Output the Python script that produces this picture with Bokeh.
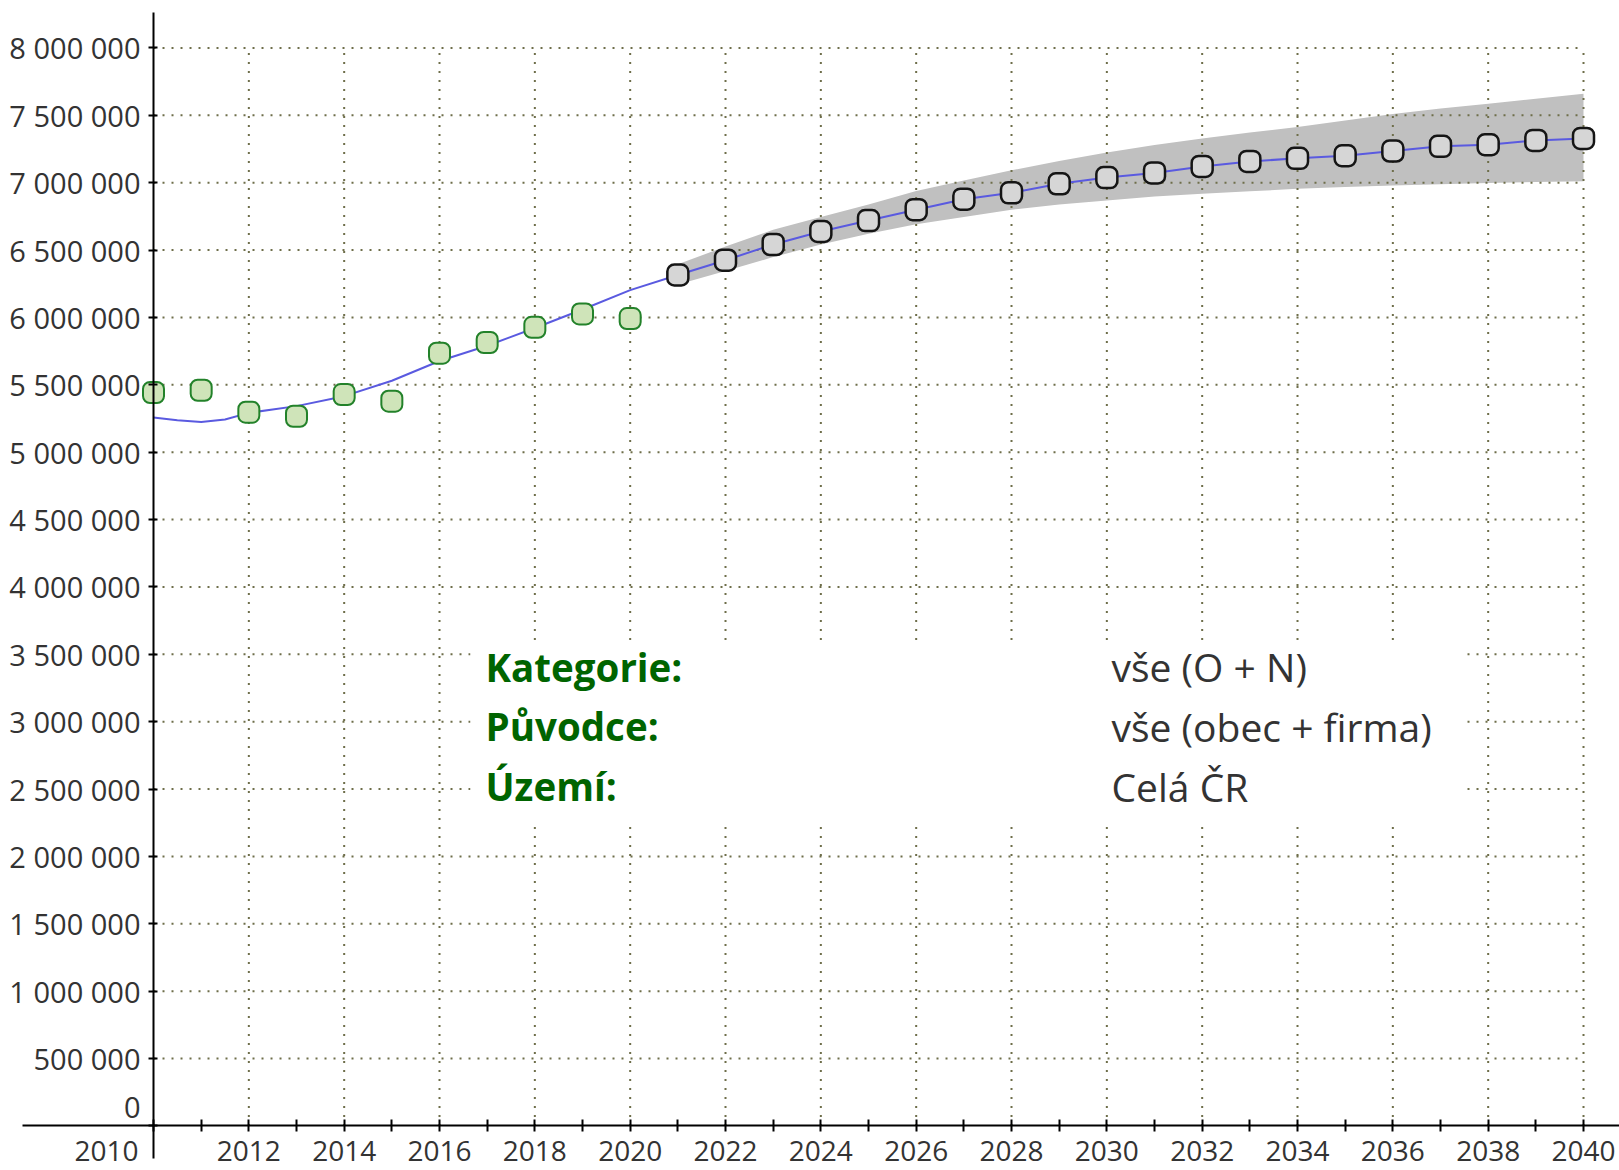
from bokeh.plotting import figure
from bokeh.models import LinearAxis, FixedTicker, Range1d, Label
from bokeh.embed import file_html
from bokeh.resources import INLINE

# ---------------- data ----------------
hist_years = [2010, 2011, 2012, 2013, 2014, 2015, 2016, 2017, 2018, 2019, 2020]
hist_values = [5443000, 5460000, 5297000, 5267000, 5428000, 5379000,
               5735000, 5814000, 5927000, 6026000, 5992000]

fc_years = [2021, 2022, 2023, 2024, 2025, 2026, 2027, 2028, 2029, 2030,
            2031, 2032, 2033, 2034, 2035, 2036, 2037, 2038, 2039, 2040]
fc_values = [6315000, 6425000, 6542000, 6638000, 6719000, 6800000, 6878000,
             6925000, 6992000, 7038000, 7073000, 7121000, 7158000, 7181000,
             7200000, 7235000, 7270000, 7282000, 7314000, 7329000]
fc_upper = [6394000, 6527000, 6651000, 6745000, 6839000, 6938000, 7017000,
            7092000, 7161000, 7225000, 7280000, 7328000, 7372000, 7413000,
            7462000, 7510000, 7550000, 7587000, 7624000, 7660000]
fc_lower = [6245000, 6344000, 6448000, 6542000, 6621000, 6691000, 6745000,
            6800000, 6839000, 6868000, 6898000, 6918000, 6936000, 6955000,
            6968000, 6980000, 6988000, 6998000, 7005000, 7011000]

trend_years = [2010, 2010.5, 2011, 2011.5, 2012, 2013, 2014, 2015, 2016,
               2017, 2018, 2019, 2020]
trend_values = [5257000, 5238000, 5225000, 5243000, 5292000, 5342000, 5416000,
                5530000, 5677000, 5790000, 5922000, 6059000, 6203000]

x_ticks = [2010, 2012, 2014, 2016, 2018, 2020, 2022, 2024, 2026, 2028, 2030,
           2032, 2034, 2036, 2038, 2040]
x_tick_labels = ["2010", "2012", "2014", "2016", "2018", "2020", "2022", "2024",
                 "2026", "2028", "2030", "2032", "2034", "2036", "2038", "2040"]
x_minor_ticks = [2011, 2013, 2015, 2017, 2019, 2021, 2023, 2025, 2027, 2029,
                 2031, 2033, 2035, 2037, 2039]

y_ticks = [0, 500000, 1000000, 1500000, 2000000, 2500000, 3000000, 3500000,
           4000000, 4500000, 5000000, 5500000, 6000000, 6500000, 7000000,
           7500000, 8000000]
y_tick_labels = ["0", "500 000", "1 000 000", "1 500 000", "2 000 000",
                 "2 500 000", "3 000 000", "3 500 000", "4 000 000",
                 "4 500 000", "5 000 000", "5 500 000", "6 000 000",
                 "6 500 000", "7 000 000", "7 500 000", "8 000 000"]

info_keys = ["Kategorie:", "Původce:", "Území:"]
info_values = ["vše (O + N)", "vše (obec + firma)", "Celá ČR"]

# ---------------- styles ----------------
FONT = "Open Sans"
Y_TICK_SIZE = "29px"
X_TICK_SIZE = "28px"
TEXT_COLOR = "#333333"
GRID_COLOR = "#6e6e4a"

W, H = 1619, 1170

p = figure(width=W, height=H, output_backend="svg", toolbar_location=None,
           x_axis_type=None, y_axis_type=None,
           x_range=Range1d(2006.790, 2040.755),
           y_range=Range1d(-331000, 8352400),
           min_border_left=0, min_border_right=0,
           min_border_top=0, min_border_bottom=0,
           background_fill_color="white", border_fill_color="white")
p.outline_line_color = None

# confidence band
p.varea(x=fc_years, y1=fc_lower, y2=fc_upper, fill_color="#c0c0c0", fill_alpha=1.0)

# dotted grid limited to the data area (2010-2040, 0-8 000 000)
gx = x_ticks[1:]
p.segment(x0=gx, y0=[y_ticks[0]] * len(gx), x1=gx, y1=[y_ticks[-1]] * len(gx),
          line_color=GRID_COLOR, line_width=2, line_dash="2 7")
gy = y_ticks[1:]
p.segment(x0=[x_ticks[0]] * len(gy), y0=gy, x1=[x_ticks[-1]] * len(gy), y1=gy,
          line_color=GRID_COLOR, line_width=2, line_dash="2 7")

# white info box covering the grid
p.quad(left=[2016.65], right=[2037.54], bottom=[2244000], top=[3588000],
       fill_color="white", line_color=None)

# trend line
p.line(trend_years + fc_years, trend_values + fc_values, line_color="#5a5ae0", line_width=2)

def markers(xs, ys, fill, line, lw):
    try:
        p.rect(xs, ys, width=21, height=21, width_units="screen", height_units="screen",
               border_radius=7, fill_color=fill, line_color=line, line_width=lw)
    except Exception:
        p.scatter(xs, ys, marker="circle", size=21, fill_color=fill,
                  line_color=line, line_width=lw)

markers(hist_years, hist_values, "#cfe4b9", "#23822a", 2)
markers(fc_years, fc_values, "#d6d6d6", "#151515", 2.5)

# axes crossing at (2010, 0)
xaxis = LinearAxis(fixed_location=0,
                   ticker=FixedTicker(ticks=x_ticks, minor_ticks=x_minor_ticks),
                   bounds=(2007.25, 2041))
xaxis.major_label_overrides = {t: (lab if t != 2010 else "")
                               for t, lab in zip(x_ticks, x_tick_labels)}
yaxis = LinearAxis(fixed_location=2010,
                   ticker=FixedTicker(ticks=y_ticks),
                   bounds=(-242000, 8263000))
yaxis.major_label_overrides = {t: (lab if t != 0 else "")
                               for t, lab in zip(y_ticks, y_tick_labels)}
for ax in (xaxis, yaxis):
    ax.axis_line_color = "black"
    ax.axis_line_width = 2
    ax.major_tick_line_color = "black"
    ax.major_tick_line_width = 2
    ax.minor_tick_line_color = "black"
    ax.minor_tick_line_width = 2
    ax.major_label_text_font = FONT
    ax.major_label_text_color = TEXT_COLOR
xaxis.major_label_text_font_size = X_TICK_SIZE
yaxis.major_label_text_font_size = Y_TICK_SIZE
xaxis.major_tick_in = 6
xaxis.major_tick_out = 6
xaxis.minor_tick_in = 6
xaxis.minor_tick_out = 6
xaxis.major_label_standoff = 9
yaxis.major_tick_in = 4
yaxis.major_tick_out = 5
yaxis.minor_tick_line_color = None
yaxis.major_label_standoff = 8
p.add_layout(xaxis, "below")
p.add_layout(yaxis, "left")

# special tick labels at the axes crossing
p.add_layout(Label(x=x_ticks[0], y=0, text=y_tick_labels[0], x_offset=-13, y_offset=18,
                   text_align="right", text_baseline="middle", text_font=FONT,
                   text_font_size=Y_TICK_SIZE, text_color=TEXT_COLOR))
p.add_layout(Label(x=x_ticks[0], y=0, text=x_tick_labels[0], x_offset=-15, y_offset=-25,
                   text_align="right", text_baseline="middle", text_font=FONT,
                   text_font_size=X_TICK_SIZE, text_color=TEXT_COLOR))

# info text
key_x = 2016.965
val_x = 2030.098
base_ys = [3409000, 2965000, 2520000]
for k, v, yb in zip(info_keys, info_values, base_ys):
    p.add_layout(Label(x=key_x, y=yb, text=k, text_font=FONT, text_font_size="38.5px",
                       text_font_style="bold", text_color="#006400",
                       text_baseline="alphabetic", text_align="left"))
    p.add_layout(Label(x=val_x, y=yb, text=v, text_font=FONT, text_font_size="39px",
                       text_color=TEXT_COLOR, text_baseline="alphabetic",
                       text_align="left"))

open("out.html", "w").write(file_html(p, INLINE))
